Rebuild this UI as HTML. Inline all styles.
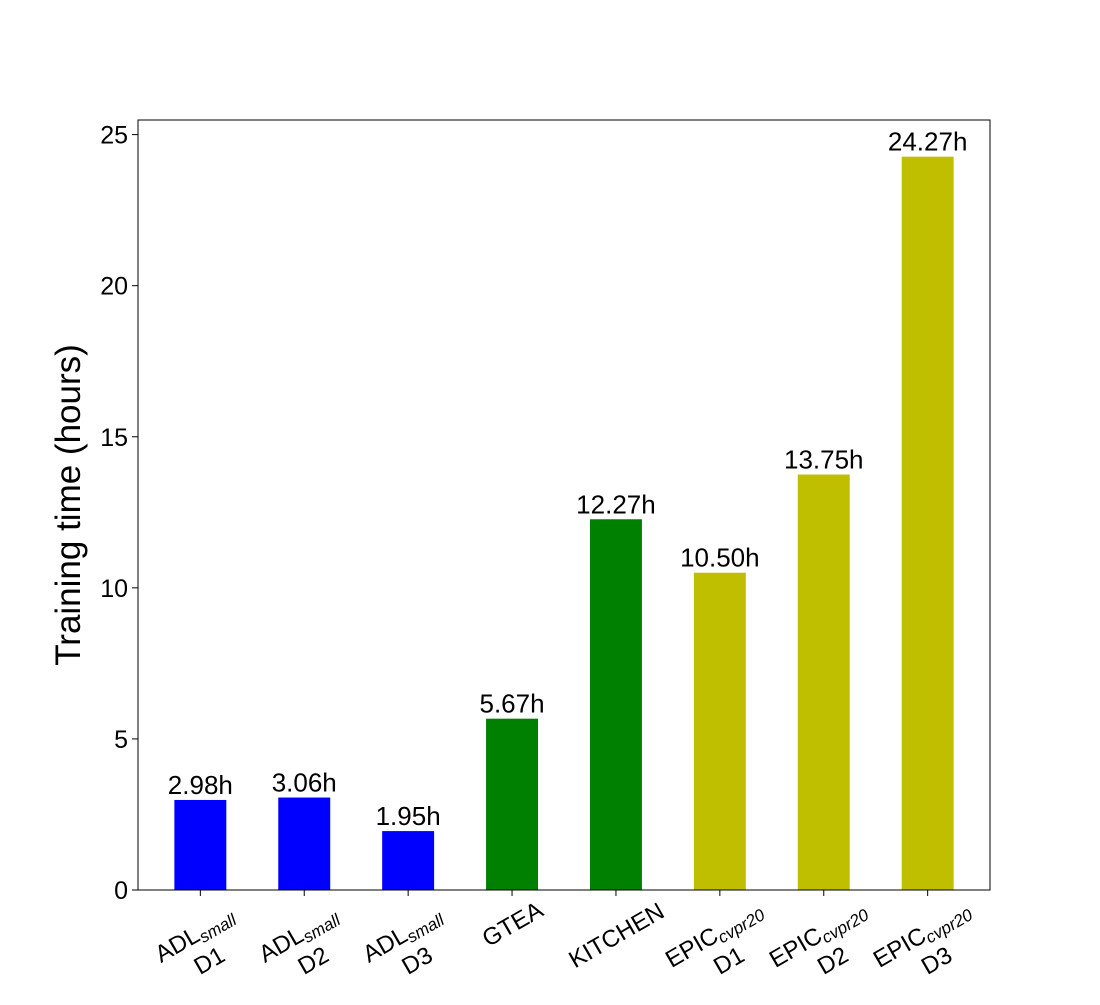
<!DOCTYPE html>
<html><head><meta charset="utf-8"><style>
body{margin:0;background:#fff;}
svg text{font-family:"Liberation Sans","DejaVu Sans",sans-serif;}
</style></head><body>
<svg id="chart" width="1100" height="1000" viewBox="0 0 1100 1000" xmlns="http://www.w3.org/2000/svg">
<rect x="0" y="0" width="1100" height="1000" fill="#fff"/>
<g id="bars"></g>
<g id="yticks"></g>
<g id="xticks"></g>
<rect x="138" y="120" width="852" height="770" fill="none" stroke="#000" stroke-width="1"/>
<text x="80" y="505" font-size="35" text-anchor="middle" transform="rotate(-90 80 505)">Training time (hours)</text>
</svg>
<script>
const categories = ["ADL|small|D1","ADL|small|D2","ADL|small|D3","GTEA","KITCHEN","EPIC|cvpr20|D1","EPIC|cvpr20|D2","EPIC|cvpr20|D3"];
const values = [2.98, 3.06, 1.95, 5.67, 12.27, 10.50, 13.75, 24.27];
const colors = ["#0000ff","#0000ff","#0000ff","#008000","#008000","#bfbf00","#bfbf00","#bfbf00"];
const yTicks = [0, 5, 10, 15, 20, 25];
const NS = "http://www.w3.org/2000/svg";
const X0 = 138, X1 = 990, Y0 = 890, Y1 = 120;
const xmin = -0.6, xmax = categories.length - 1 + 0.6;
const ymax = Math.max(...values) * 1.05;
const xs = i => X0 + (i - xmin) / (xmax - xmin) * (X1 - X0);
const ys = v => Y0 - v / ymax * (Y0 - Y1);
const bw = 0.5 / (xmax - xmin) * (X1 - X0);
const bars = document.getElementById('bars');
values.forEach((v, i) => {
  const r = document.createElementNS(NS, 'rect');
  r.setAttribute('x', xs(i) - bw / 2);
  r.setAttribute('y', ys(v));
  r.setAttribute('width', bw);
  r.setAttribute('height', Y0 - ys(v));
  r.setAttribute('fill', colors[i]);
  
  
  bars.appendChild(r);
  const t = document.createElementNS(NS, 'text');
  t.setAttribute('x', xs(i));
  t.setAttribute('y', ys(v) - 6);
  t.setAttribute('font-size', '26');
  t.setAttribute('text-anchor', 'middle');
  t.textContent = v.toFixed(2) + 'h';
  
  
  bars.appendChild(t);
});
const yg = document.getElementById('yticks');
yTicks.forEach(v => {
  const l = document.createElementNS(NS, 'line');
  l.setAttribute('x1', X0 - 6); l.setAttribute('x2', X0);
  l.setAttribute('y1', ys(v)); l.setAttribute('y2', ys(v));
  l.setAttribute('stroke', '#000');
  
  
  yg.appendChild(l);
  const t = document.createElementNS(NS, 'text');
  t.setAttribute('x', X0 - 10); t.setAttribute('y', ys(v) + 9);
  t.setAttribute('font-size', '25'); t.setAttribute('text-anchor', 'end');
  t.textContent = v;
  
  
  yg.appendChild(t);
});
const xg = document.getElementById('xticks');
categories.forEach((c, i) => {
  const x = xs(i);
  const l = document.createElementNS(NS, 'line');
  l.setAttribute('x1', x); l.setAttribute('x2', x);
  l.setAttribute('y1', Y0); l.setAttribute('y2', Y0 + 6);
  l.setAttribute('stroke', '#000');
  
  
  xg.appendChild(l);
  const parts = c.split('|');
  const g = document.createElementNS(NS, 'g');
  
  
  const t = document.createElementNS(NS, 'text');
  t.setAttribute('font-size', '24');
  t.setAttribute('text-anchor', 'middle');
  let cy;
  if (parts.length === 1) {
    t.textContent = parts[0];
    const w = parts[0].length * 15;
    cy = 897 + (w * 0.5 + 26 * 0.866) / 2;
    t.setAttribute('y', 9);
    g.appendChild(t);
  } else {
    const t1 = document.createElementNS(NS, 'tspan');
    t1.setAttribute('x', 0); t1.setAttribute('y', -4);
    t1.textContent = parts[0];
    const s = document.createElementNS(NS, 'tspan');
    s.setAttribute('font-size', '17'); s.setAttribute('font-style', 'italic'); s.setAttribute('dy', '4');
    s.textContent = parts[1];
    const t2 = document.createElementNS(NS, 'tspan');
    t2.setAttribute('x', 0); t2.setAttribute('y', 26);
    t2.textContent = parts[2];
    t.appendChild(t1); t.appendChild(s); t.appendChild(t2);
    cy = 945;
    g.appendChild(t);
  }
  g.setAttribute('transform', `translate(${x},${cy}) rotate(-30)`);
  xg.appendChild(g);
});
</script>
</body></html>
